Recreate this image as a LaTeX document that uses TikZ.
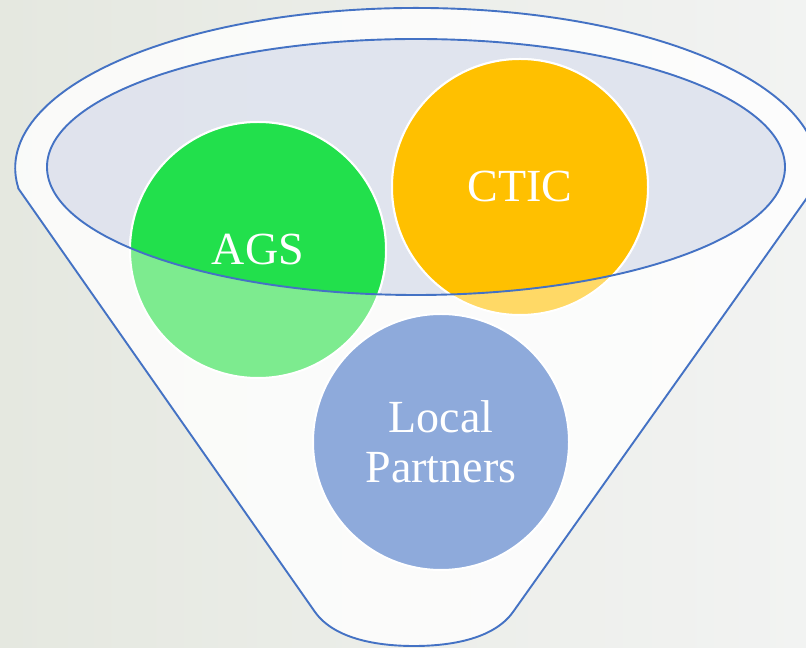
\documentclass[tikz,border=0pt]{standalone}
\usepackage{fontspec}
\setmainfont{Liberation Serif}
\usepackage{tikz}
\usetikzlibrary{positioning}

\definecolor{rimblue}{HTML}{4472C4}
\definecolor{agsgreen}{HTML}{22E04C}
\definecolor{agslight}{HTML}{7DEB8F}
\definecolor{cticorange}{HTML}{FFC000}
\definecolor{cticlight}{HTML}{FFD966}
\definecolor{localblue}{HTML}{8EAADB}
\definecolor{mouthfill}{HTML}{DCE0EC}
\definecolor{backleft}{HTML}{E5E8E0}
\definecolor{backright}{HTML}{F2F3F2}

\tikzset{
  rim/.style={draw=rimblue, line width=1.9pt},
  member/.style={circle, minimum size=256pt, inner sep=0pt, draw=white, line width=2pt},
  membertext/.style={text=white, font=\fontsize{46}{50}\selectfont, align=center},
}

\begin{document}
\begin{tikzpicture}[x=1pt,y=1pt]
\useasboundingbox (0,0) rectangle (806,648);
\shade[left color=backleft, right color=backright] (0,0) rectangle (806,648);

% funnel body
\coordinate (mouth) at (416,480);
\coordinate (leftcorner) at (18,460);
\coordinate (leftfoot) at (315,36);
\coordinate (bottom) at (414,2);
\coordinate (rightfoot) at (513,36);
\coordinate (rightcorner) at (814,460);
\path[fill=white, fill opacity=0.8]
  (leftcorner) -- (leftfoot) .. controls (335,8) and (380,2) .. (bottom)
  .. controls (448,2) and (493,8) .. (rightfoot) -- (rightcorner)
  arc[start angle=-7.2, end angle=187.2, x radius=401, y radius=160] -- cycle;
\draw[rim]
  (leftcorner) -- (leftfoot) .. controls (335,8) and (380,2) .. (bottom)
  .. controls (448,2) and (493,8) .. (rightfoot) -- (rightcorner)
  arc[start angle=-7.2, end angle=187.2, x radius=401, y radius=160];

% inside of the mouth
\fill[mouthfill, fill opacity=0.85] (416,481) ellipse[x radius=369, y radius=128];

% the three partners
\node[member, fill=agslight] (ags) at (258,398) {};
\node[member, fill=cticlight] (ctic) at (520,461) {};
\node[member, fill=localblue] (local) at (441,206) {};
\begin{scope}
  \clip (416,481) ellipse[x radius=369, y radius=128];
  \node[member, fill=agsgreen] (agstop) at (ags) {};
  \node[member, fill=cticorange] (ctictop) at (ctic) {};
\end{scope}
\draw[rim] (416,481) ellipse[x radius=369, y radius=128];

\node[membertext] (agslabel) at (ags) {AGS};
\node[membertext] (cticlabel) at (ctic) {CTIC};
\node[membertext] (locallabel) at (local) {Local\\Partners};
\end{tikzpicture}
\end{document}
